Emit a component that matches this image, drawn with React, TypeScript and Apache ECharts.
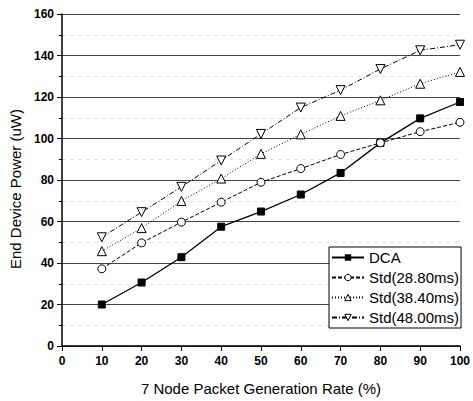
import React, { useEffect, useRef } from "react";
import * as echarts from "echarts";

const xValues = [10, 20, 30, 40, 50, 60, 70, 80, 90, 100];
const dca = [20, 30.6, 42.8, 57.5, 64.8, 73, 83.4, 97.9, 109.7, 117.6];
const std2880 = [37.2, 49.7, 59.7, 69.3, 78.9, 85.5, 92.3, 97.9, 103.3, 107.8];
const std3840 = [45.7, 56.8, 69.9, 80.7, 92.6, 102, 110.9, 118.4, 126.4, 132.1];
const std4800 = [52.4, 64.5, 76.7, 89.4, 102.2, 114.9, 123.3, 133.5, 142.5, 145.2];
const seriesNames = ["DCA", "Std(28.80ms)", "Std(38.40ms)", "Std(48.00ms)"];

const font = "Liberation Sans, Arial, sans-serif";

export default function App() {
  const ref = useRef<HTMLDivElement>(null);
  useEffect(() => {
    if (!ref.current) return;
    const chart = echarts.init(ref.current, null, { renderer: "svg" });
    const pts = (arr: number[]) => xValues.map((x, i) => [x, arr[i]]);
    const base = {
      type: "line",
      color: "#000",
      symbolSize: 7,
      z: 3,
    };
    const hollow = { color: "#fff", borderColor: "#000", borderWidth: 1, borderType: "solid" };
    chart.setOption({
      animation: false,
      backgroundColor: "#fff",
      grid: { left: 62, right: 9, top: 14, bottom: 52 },
      legend: {
        left: 329,
        top: 247,
        orient: "vertical",
        backgroundColor: "#fff",
        borderColor: "#000",
        borderWidth: 1,
        borderRadius: 0,
        padding: [3, 2, 3, 2],
        itemGap: 5,
        itemWidth: 32,
        itemHeight: 8,
        textStyle: { fontFamily: font, fontSize: 15, color: "#000", lineHeight: 15 },
        data: [
          { name: seriesNames[0], itemStyle: { color: "#000", borderColor: "#000" } },
          { name: seriesNames[1], itemStyle: hollow },
          { name: seriesNames[2], itemStyle: hollow },
          { name: seriesNames[3], itemStyle: hollow },
        ],
      },
      xAxis: {
        type: "value",
        min: 0,
        max: 100,
        interval: 10,
        name: "7 Node Packet Generation Rate (%)",
        nameLocation: "middle",
        nameGap: 35,
        nameTextStyle: { fontFamily: font, fontSize: 15, color: "#000" },
        axisLine: { lineStyle: { color: "#000", width: 1.5 } },
        axisTick: { show: true, length: 5, lineStyle: { color: "#000" } },
        axisLabel: { fontFamily: font, fontSize: 12, fontWeight: "bold", color: "#000", margin: 9 },
        splitLine: { show: false },
      },
      yAxis: {
        type: "value",
        min: 0,
        max: 160,
        interval: 20,
        name: "End Device Power (uW)",
        nameLocation: "middle",
        nameGap: 39,
        nameTextStyle: { fontFamily: font, fontSize: 15, color: "#000", padding: [0, 18, 0, 0] },
        axisLine: { show: true, lineStyle: { color: "#000", width: 1.5 } },
        axisTick: { show: true, length: 5, lineStyle: { color: "#000" } },
        minorTick: { show: true, splitNumber: 2, length: 3, lineStyle: { color: "#000" } },
        minorSplitLine: { show: true, lineStyle: { color: "#ddd", type: [3, 5] } },
        axisLabel: { fontFamily: font, fontSize: 12, fontWeight: "bold", color: "#000", margin: 8 },
        splitLine: { show: true, lineStyle: { color: "#444", width: 1.2 } },
      },
      series: [
        {
          ...base,
          name: seriesNames[0],
          data: pts(dca),
          symbol: "rect",
          lineStyle: { color: "#000", width: 1.3, type: "solid" },
          itemStyle: { color: "#000", borderColor: "#000" },
        },
        {
          ...base,
          name: seriesNames[1],
          data: pts(std2880),
          symbol: "circle",
          symbolSize: 8,
          lineStyle: { color: "#000", width: 1, type: [4, 2] },
          itemStyle: hollow,
        },
        {
          ...base,
          name: seriesNames[2],
          data: pts(std3840),
          symbol: "triangle",
          symbolSize: 9,
          lineStyle: { color: "#000", width: 1, type: [1, 2] },
          itemStyle: hollow,
        },
        {
          ...base,
          name: seriesNames[3],
          data: pts(std4800),
          symbol: "triangle",
          symbolRotate: 180,
          symbolSize: 9,
          lineStyle: { color: "#000", width: 1, type: [5, 2, 1, 2] },
          itemStyle: hollow,
        },
      ],
    });
    return () => chart.dispose();
  }, []);
  return <div ref={ref} style={{ width: 473, height: 401, position: "absolute", left: 0, top: 0 }} />;
}
